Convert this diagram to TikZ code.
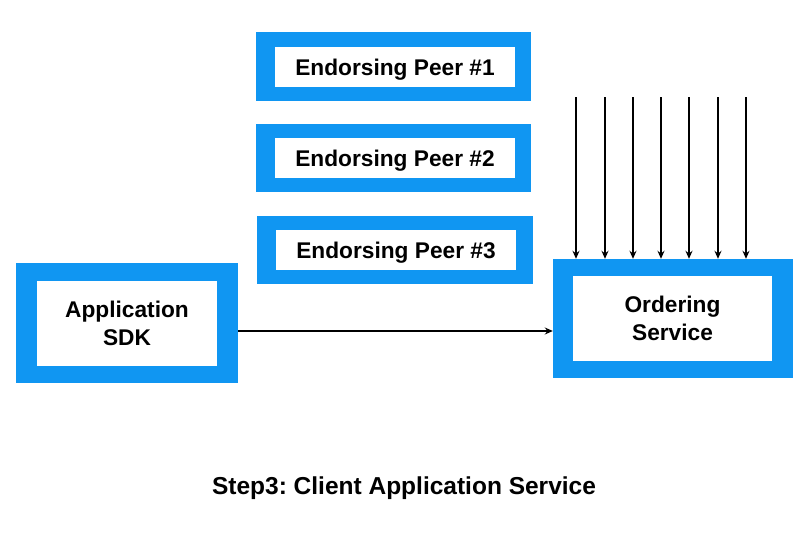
\documentclass[tikz,border=0pt]{standalone}
\usepackage{fontspec}
\setmainfont{Liberation Sans}
\usetikzlibrary{arrows.meta}
\definecolor{peerblue}{RGB}{16,150,242}
\begin{document}
\frenchspacing
\begin{tikzpicture}[x=1pt, y=-1pt,
        outerbox/.style={fill=peerblue, inner sep=0pt},
        innerbox/.style={fill=white, inner sep=0pt, align=center, text depth=0pt, font=\fontsize{22.7}{28}\selectfont\bfseries},
        arrow/.style={-{Stealth[length=8pt, width=7pt]}, line width=1.4pt}]
        \useasboundingbox (0, 0) rectangle (807, 536);
        % endorsing peers
        \node[outerbox, minimum width=275, minimum height=69] (peer1) at (393.5, 66.5) {};
        \node[innerbox, minimum width=240, minimum height=40] (peer1in) at (395, 67) {Endorsing Peer \#1};
        \node[outerbox, minimum width=275, minimum height=68] (peer2) at (393.5, 158) {};
        \node[innerbox, minimum width=240, minimum height=40] (peer2in) at (395, 158) {Endorsing Peer \#2};
        \node[outerbox, minimum width=276, minimum height=68] (peer3) at (395, 250) {};
        \node[innerbox, minimum width=240, minimum height=40] (peer3in) at (396, 250) {Endorsing Peer \#3};
        % application and orderer
        \node[outerbox, minimum width=222, minimum height=120] (app) at (127, 323) {};
        \node[innerbox, minimum width=180, minimum height=85] (appin) at (127, 323.5) {Application\\SDK};
        \node[outerbox, minimum width=240, minimum height=119] (order) at (673, 318.5) {};
        \node[innerbox, minimum width=199, minimum height=85] (orderin) at (672.5, 318.5) {Ordering\\Service};
        \coordinate (appline) at (0, 331);
        \draw[arrow] (app.east |- appline) -- (order.west |- appline);
        \foreach \x [count=\i] in {576, 605, 633, 661, 689, 718, 746} {
            \coordinate (top\i) at (\x, 97);
            \draw[arrow] (top\i) -- (top\i |- order.north);
        }
        \node[font=\fontsize{24.5}{29}\selectfont\bfseries] (title) at (404, 488) {Step3: Client Application Service};
    \end{tikzpicture}
\end{document}
